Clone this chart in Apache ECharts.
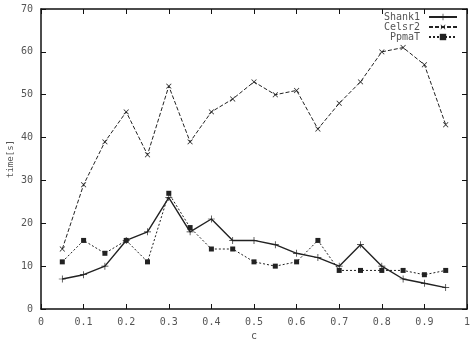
<!DOCTYPE html>
<html>
<head>
<meta charset="utf-8">
<script src="https://cdn.jsdelivr.net/npm/echarts@6/dist/echarts.min.js"></script>
<style>
  html, body { margin: 0; padding: 0; background: #fff; }
  #chart { width: 474px; height: 342px; }
</style>
</head>
<body>
<div id="chart"></div>
<script>
// c values and timings
var cValues = [0.05, 0.1, 0.15, 0.2, 0.25, 0.3, 0.35, 0.4, 0.45, 0.5, 0.55, 0.6, 0.65, 0.7, 0.75, 0.8, 0.85, 0.9, 0.95];
var shank1 = [7, 8, 10, 16, 18, 26, 18, 21, 16, 16, 15, 13, 12, 10, 15, 10, 7, 6, 5];
var celsr2 = [14, 29, 39, 46, 36, 52, 39, 46, 49, 53, 50, 51, 42, 48, 53, 60, 61, 57, 43];
var ppmaT = [11, 16, 13, 16, 11, 27, 19, 14, 14, 11, 10, 11, 16, 9, 9, 9, 9, 8, 9];

var monoFont = '"DejaVu Sans Mono", "Liberation Mono", monospace';
var plusPath = 'path://M0,4.5L10,4.5L10,5.5L0,5.5Z M4.5,0L5.5,0L5.5,10L4.5,10Z';

function pairs(ys) {
    return cValues.map(function (c, i) { return [c, ys[i]]; });
}

var frameAxis = {
    min: 0,
    axisLine: { show: true, onZero: false, lineStyle: { color: '#111', width: 1.5 } },
    axisTick: { show: true, inside: true, length: 5, lineStyle: { color: '#111', width: 1 } },
    splitLine: { show: false }
};

var chart = echarts.init(document.getElementById('chart'));
chart.setOption({
    animation: false,
    backgroundColor: '#fff',
    grid: { left: 41, right: 7, top: 9, bottom: 33, outerBoundsMode: 'none' },
    legend: {
        data: ['Shank1', 'Celsr2', 'PpmaT'],
        orient: 'vertical',
        right: 16,
        top: 12,
        padding: 0,
        align: 'right',
        itemWidth: 28,
        itemHeight: 8,
        itemGap: 0,
        textStyle: { fontFamily: monoFont, fontSize: 10, lineHeight: 10, height: 10, padding: [0, 4, 0, 0], color: '#555' }
    },
    xAxis: [
        Object.assign({}, frameAxis, {
            type: 'value', max: 1, interval: 0.1, position: 'bottom',
            name: 'c', nameLocation: 'middle', nameGap: 22,
            nameTextStyle: { fontFamily: monoFont, fontSize: 10, color: '#555' },
            axisLabel: {
                fontFamily: monoFont, fontSize: 10, color: '#555', margin: 8,
                formatter: function (v) { return String(+v.toFixed(1)); }
            }
        }),
        Object.assign({}, frameAxis, {
            type: 'value', max: 1, interval: 0.1, position: 'top',
            axisLabel: { show: false }
        })
    ],
    yAxis: [
        Object.assign({}, frameAxis, {
            type: 'value', max: 70, interval: 10, position: 'left',
            name: 'time[s]', nameLocation: 'middle', nameGap: 26, nameMoveOverlap: false,
            nameTextStyle: { fontFamily: monoFont, fontSize: 9, color: '#555' },
            axisLabel: { fontFamily: monoFont, fontSize: 10, color: '#555', margin: 8 }
        }),
        Object.assign({}, frameAxis, {
            type: 'value', max: 70, interval: 10, position: 'right',
            axisLabel: { show: false }
        })
    ],
    series: [
        {
            name: 'Shank1', type: 'line', data: pairs(shank1),
            symbol: plusPath, symbolSize: 7,
            itemStyle: { color: '#222' },
            lineStyle: { color: '#222', width: 1.4, type: 'solid' }
        },
        {
            name: 'Celsr2', type: 'line', data: pairs(celsr2),
            symbol: plusPath, symbolSize: 7, symbolRotate: 45,
            itemStyle: { color: '#222' },
            lineStyle: { color: '#222', width: 1, type: [4, 2] }
        },
        {
            name: 'PpmaT', type: 'line', data: pairs(ppmaT),
            symbol: 'rect', symbolSize: 5,
            itemStyle: { color: '#222' },
            lineStyle: { color: '#222', width: 1, type: [2, 2] }
        }
    ]
});
</script>
</body>
</html>
